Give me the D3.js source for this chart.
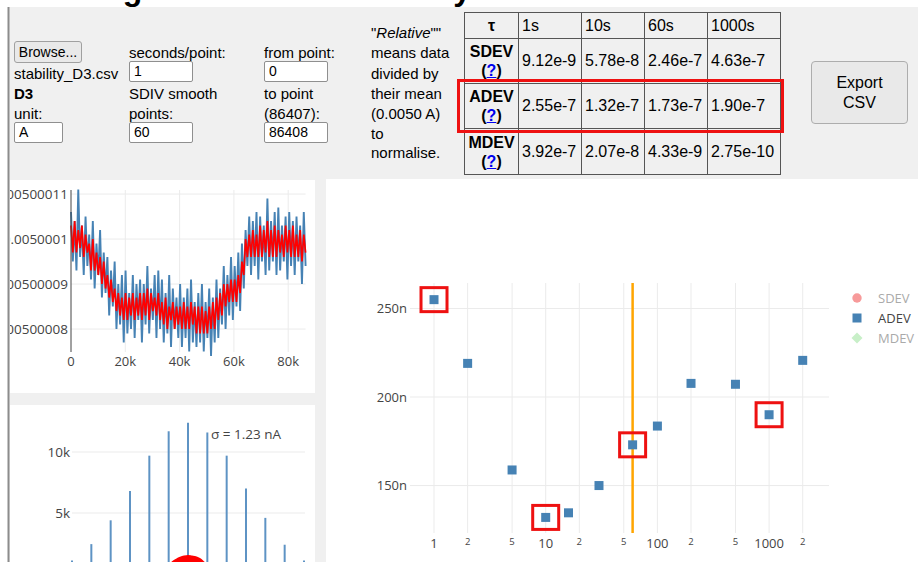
<!DOCTYPE html>
<html><head><meta charset="utf-8">
<script src="https://cdn.jsdelivr.net/npm/d3@7"></script>
<style>
html,body{margin:0;padding:0;}
body{width:918px;height:562px;overflow:hidden;position:relative;background:#fff;font-family:"Liberation Sans",Arial,sans-serif;color:#000;}
#chart{position:absolute;left:0;top:0;}
.lbl{position:absolute;font-size:15px;line-height:20px;white-space:nowrap;}
.inp{position:absolute;box-sizing:border-box;height:21px;border:1px solid #8f8f8f;border-radius:2px;background:#fff;font-size:14px;line-height:19px;padding:0 4px;}
.btn{position:absolute;box-sizing:border-box;border:1px solid #a0a0a0;border-radius:3px;background:#e9e9e9;font-size:14px;text-align:center;}
#stats{position:absolute;left:464px;top:12px;border-collapse:collapse;table-layout:fixed;width:316px;}
#stats td,#stats th{border:1px solid #555;padding:0 3px;font-size:16px;font-weight:normal;text-align:left;vertical-align:middle;white-space:nowrap;overflow:hidden;}
#stats th.tau{text-align:center;font-weight:bold;}
#stats td.rl{text-align:center;font-weight:bold;line-height:19px;}
#stats td.rl u{color:#0000ee;}
</style></head><body>
<svg id="chart" width="918" height="562"></svg>

<button class="btn" style="left:14px;top:41px;width:68px;height:22px;padding:0;">Browse...</button>
<div class="lbl" style="left:14px;top:64px;">stability_D3.csv</div>
<div class="lbl" style="left:14px;top:84px;font-weight:bold;">D3</div>
<div class="lbl" style="left:14px;top:104px;">unit:</div>
<div class="inp" style="left:14px;top:122px;width:49px;">A</div>

<div class="lbl" style="left:129px;top:43px;">seconds/point:</div>
<div class="inp" style="left:129px;top:61px;width:64px;">1</div>
<div class="lbl" style="left:129px;top:84px;">SDIV smooth</div>
<div class="lbl" style="left:129px;top:104px;">points:</div>
<div class="inp" style="left:129px;top:122px;width:64px;">60</div>

<div class="lbl" style="left:264px;top:43px;">from point:</div>
<div class="inp" style="left:264px;top:61px;width:64px;">0</div>
<div class="lbl" style="left:264px;top:84px;">to point</div>
<div class="lbl" style="left:264px;top:104px;">(86407):</div>
<div class="inp" style="left:264px;top:122px;width:64px;">86408</div>

<div class="lbl" style="left:371px;top:23px;">"<i>Relative</i>""</div>
<div class="lbl" style="left:371px;top:43px;">means data</div>
<div class="lbl" style="left:371px;top:64px;">divided by</div>
<div class="lbl" style="left:371px;top:84px;">their mean</div>
<div class="lbl" style="left:371px;top:104px;">(0.0050 A)</div>
<div class="lbl" style="left:371px;top:124px;">to</div>
<div class="lbl" style="left:371px;top:143px;">normalise.</div>

<table id="stats"></table>
<div style="position:absolute;left:457px;top:79px;width:327px;height:54px;box-sizing:border-box;border:3px solid #ee1111;"></div>

<div class="btn" style="left:811px;top:61px;width:97px;height:63px;border-radius:4px;font-size:16px;line-height:20px;padding-top:11px;border-color:#adadad;">Export<br>CSV</div>

<script>
// ---------- DATA ----------
const tsEnd = 86407;                 // seconds (last point index)
const tsBase = 0.005;                // A
// offsets from 0.005 A, in units of 1e-9 A
const tsBlue = [
 106, 95, 104, 93, 111, 96, 103, 92, 105, 94,
 101, 91, 104, 89, 99, 92, 102, 87, 97, 88,
 96, 83, 93, 85, 95, 80, 90, 81, 92, 77,
 93, 79, 88, 80, 92, 78, 90, 82, 91, 77,
 90, 81, 94, 79, 89, 82, 92, 78, 93, 80,
 91, 77, 88, 79, 92, 76, 89, 80, 87, 78,
 90, 76, 87, 78, 89, 75, 91, 77, 86, 76,
 88, 77, 90, 75, 86, 78, 89, 74, 87, 77,
 91, 78, 89, 81, 94, 80, 92, 83, 96, 82,
 94, 85, 97, 84, 99, 89, 102, 94, 105, 92,
 104, 94, 106, 91, 105, 95, 103, 92, 109, 93,
 104, 95, 106, 92, 107, 93, 103, 95, 105, 91,
 106, 94, 104, 92, 105, 95, 103, 90, 106, 94
];
const tsRed = [
 103, 97, 104, 97, 102, 98, 103, 96, 101, 97,
 99, 93, 100, 93, 97, 92, 96, 90, 95, 89,
 92, 87, 91, 86, 89, 84, 88, 83, 87, 82,
 88, 82, 87, 83, 88, 82, 87, 83, 88, 82,
 88, 83, 89, 82, 88, 84, 87, 83, 88, 82,
 86, 81, 87, 80, 85, 82, 86, 80, 85, 81,
 85, 80, 86, 80, 85, 80, 86, 81, 85, 79,
 85, 79, 85, 79, 84, 79, 85, 80, 86, 80,
 87, 82, 88, 83, 90, 85, 90, 86, 91, 86,
 91, 86, 92, 88, 95, 92, 100, 96, 101, 96,
 102, 96, 101, 96, 103, 96, 102, 97, 104, 96,
 102, 96, 103, 96, 102, 97, 101, 96, 103, 97,
 102, 96, 103, 96, 101, 96, 102, 95, 101, 97
];
const tsYTicks = [0.00500008, 0.00500009, 0.0050001, 0.00500011];
const tsYTickLabels = ["0.00500008", "0.00500009", "0.0050001", "0.00500011"];
const tsXTicks = [0, 20000, 40000, 60000, 80000];
const tsXTickLabels = ["0", "20k", "40k", "60k", "80k"];

const histCenters = [-3, -2.5, -2, -1.5, -1, -0.5, 0, 0.5, 1, 1.5, 2, 2.5, 3];   // nA from mean
const histCounts  = [1100, 2450, 4400, 6800, 9700, 11700, 12400, 11600, 9700, 7000, 4600, 2400, 1100];
const smoothCenters = [-0.6, -0.5, -0.4, -0.3, -0.2, -0.1, 0, 0.1, 0.2, 0.3, 0.4, 0.5, 0.6];
const smoothCounts  = [300, 700, 1000, 1200, 1350, 1450, 1500, 1450, 1400, 1250, 1000, 700, 300];
const histYTicks = [5000, 10000];
const histYTickLabels = ["5k", "10k"];
const sigmaLabel = "σ = 1.23 nA";

const tableTaus = ["1s", "10s", "60s", "1000s"];
const sdevValues = [9.12e-9, 5.78e-8, 2.46e-7, 4.63e-7];
const adevValues = [2.55e-7, 1.32e-7, 1.73e-7, 1.90e-7];
const mdevValues = [3.92e-7, 2.07e-8, 4.33e-9, 2.75e-10];

const adevTau   = [1, 2, 5, 10, 16, 30, 60, 100, 200, 500, 1000, 2000];
const adevValue = [255e-9, 219e-9, 158.8e-9, 132e-9, 134.6e-9, 150e-9, 173e-9, 183.6e-9, 207.7e-9, 207.2e-9, 190e-9, 220.7e-9];
const highlightTau = [1, 10, 60, 1000];
const selectedTau = 60;
const xMajorTicks = [1, 10, 100, 1000];
const xMinorTicks = [2, 5, 20, 50, 200, 500, 2000];
const yTicksM = [150e-9, 200e-9, 250e-9];
const legendNames = ["SDEV", "ADEV", "MDEV"];

// ---------- TABLE ----------
const table = d3.select("#stats");
const cg = table.append("colgroup");
[54, 63, 63, 63, 73].forEach(w => cg.append("col").style("width", w + "px"));
const hr = table.append("tr").style("height", "26px");
hr.append("th").attr("class", "tau").text("τ");
tableTaus.forEach(t => hr.append("th").text(t));
[["SDEV", sdevValues, 45], ["ADEV", adevValues, 45], ["MDEV", mdevValues, 46]].forEach(([name, vals, h]) => {
  const tr = table.append("tr").style("height", h + "px");
  tr.append("td").attr("class", "rl").html(name + "<br>(<u>?</u>)");
  vals.forEach(v => tr.append("td").text(v.toExponential(2)));
});

// ---------- SVG ----------
const svg = d3.select("#chart");
const FONT = "'Open Sans', 'DejaVu Sans', sans-serif";
svg.append("rect").attr("x", 8).attr("y", 7).attr("width", 910).attr("height", 555).attr("fill", "#f0f0f0");
svg.append("line").attr("x1", 8.5).attr("x2", 8.5).attr("y1", 7).attr("y2", 562).attr("stroke", "#8c8c8c").attr("stroke-width", 2);
svg.append("text").attr("x", 64).attr("y", 0).attr("font-family", "'Liberation Sans', Arial, sans-serif")
  .attr("font-weight", "bold").attr("font-size", 32).text("Long-term current stability");

const panels = {ts: [10, 180, 305, 213], hist: [10, 405, 305, 160], main: [326, 179, 592, 383]};
const defs = svg.append("defs");
Object.entries(panels).forEach(([k, p]) => {
  svg.append("rect").attr("x", p[0]).attr("y", p[1]).attr("width", p[2]).attr("height", p[3]).attr("fill", "#fff");
  defs.append("clipPath").attr("id", "clip-" + k).append("rect")
    .attr("x", p[0]).attr("y", p[1]).attr("width", p[2]).attr("height", p[3]);
});
const grid = "#ebebeb", tickCol = "#444";

// ----- time series -----
const gT = svg.append("g").attr("clip-path", "url(#clip-ts)");
const xTs = d3.scaleLinear().domain([0, tsEnd]).range([71, 305.6]);
const yTs = d3.scaleLinear().domain([tsBase + 74.9e-9, tsBase + 110.9e-9]).range([352, 190]);
gT.selectAll(".hg").data(tsYTicks).join("line")
  .attr("x1", xTs(0)).attr("x2", xTs(tsEnd)).attr("y1", d => yTs(d)).attr("y2", d => yTs(d))
  .attr("stroke", grid);
gT.selectAll(".vg").data(tsXTicks.slice(1)).join("line")
  .attr("x1", d => xTs(d)).attr("x2", d => xTs(d)).attr("y1", yTs.range()[1]).attr("y2", yTs.range()[0])
  .attr("stroke", grid);
const lineTs = arr => d3.line().x((d, i) => xTs(i / (arr.length - 1) * tsEnd)).y(d => yTs(tsBase + d * 1e-9))(arr);
gT.append("path").attr("d", lineTs(tsBlue)).attr("fill", "none").attr("stroke", "#4682b4").attr("stroke-width", 1.9);
gT.append("path").attr("d", lineTs(tsRed)).attr("fill", "none").attr("stroke", "#ff0000").attr("stroke-width", 1.7);
gT.append("line").attr("x1", xTs(0)).attr("x2", xTs(0)).attr("y1", yTs.range()[1]).attr("y2", yTs.range()[0])
  .attr("stroke", "#444").attr("stroke-width", 1);
gT.selectAll(".yl").data(tsYTicks).join("text")
  .attr("x", xTs(0) - 3).attr("y", d => yTs(d)).attr("dy", "0.35em").attr("text-anchor", "end")
  .attr("font-family", FONT).attr("font-size", 13.5).attr("fill", tickCol).text((d, i) => tsYTickLabels[i]);
gT.selectAll(".xl").data(tsXTicks).join("text")
  .attr("x", d => xTs(d)).attr("y", 361).attr("dy", "0.35em").attr("text-anchor", "middle")
  .attr("font-family", FONT).attr("font-size", 13).attr("fill", tickCol).text((d, i) => tsXTickLabels[i]);

// ----- histogram -----
const gH = svg.append("g").attr("clip-path", "url(#clip-hist)");
const xH = d3.scaleLinear().domain([-3, 3]).range([72, 304]);
const yH = d3.scaleLinear().domain([0, 10000]).range([574, 452]);
gH.selectAll(".hg").data(histYTicks).join("line")
  .attr("x1", 72).attr("x2", 305).attr("y1", d => yH(d)).attr("y2", d => yH(d)).attr("stroke", grid);
gH.selectAll(".bar").data(histCenters).join("line")
  .attr("x1", d => xH(d)).attr("x2", d => xH(d)).attr("y1", yH(0)).attr("y2", (d, i) => yH(histCounts[i]))
  .attr("stroke", "#5e93c4").attr("stroke-width", 2);
gH.append("path")
  .attr("d", d3.area().x(d => xH(d)).y0(yH(0)).y1((d, i) => yH(smoothCounts[i])).curve(d3.curveCatmullRom)(smoothCenters))
  .attr("fill", "#ff0000").attr("stroke", "#ff0000").attr("stroke-width", 1.5);
gH.selectAll(".yl").data(histYTicks).join("text")
  .attr("x", 70).attr("y", d => yH(d)).attr("dy", "0.35em").attr("text-anchor", "end")
  .attr("font-family", FONT).attr("font-size", 13.5).attr("fill", tickCol).text((d, i) => histYTickLabels[i]);
gH.append("text").attr("x", 211).attr("y", 434).attr("dy", "0.35em")
  .attr("font-family", FONT).attr("font-size", 13.5).attr("fill", tickCol).text(sigmaLabel);

// ----- ADEV plot -----
const gM = svg.append("g").attr("clip-path", "url(#clip-main)");
const xM = d3.scaleLog().domain([0.6096, 3439]).range([410, 829]);
const yM = d3.scaleLinear().domain([123.2e-9, 264.4e-9]).range([533, 283]);
const allX = xMajorTicks.concat(xMinorTicks);
gM.selectAll(".vg").data(allX).join("line")
  .attr("x1", d => xM(d)).attr("x2", d => xM(d)).attr("y1", yM.range()[1]).attr("y2", yM.range()[0]).attr("stroke", grid);
gM.selectAll(".hg").data(yTicksM).join("line")
  .attr("x1", xM.range()[0]).attr("x2", xM.range()[1]).attr("y1", d => yM(d)).attr("y2", d => yM(d)).attr("stroke", grid);
gM.append("line").attr("x1", xM(selectedTau)).attr("x2", xM(selectedTau))
  .attr("y1", yM.range()[1]).attr("y2", yM.range()[0]).attr("stroke", "#ffa500").attr("stroke-width", 2.5);
gM.selectAll(".pt").data(adevTau).join("rect")
  .attr("x", d => xM(d) - 4.5).attr("y", (d, i) => yM(adevValue[i]) - 4.5)
  .attr("width", 9).attr("height", 9).attr("fill", "#4682b4");
gM.selectAll(".hl").data(highlightTau).join("rect")
  .attr("x", d => xM(d) - 13).attr("y", d => yM(adevValue[adevTau.indexOf(d)]) - 12)
  .attr("width", 26).attr("height", 24).attr("fill", "none").attr("stroke", "#ee1111").attr("stroke-width", 3);
gM.selectAll(".yl").data(yTicksM).join("text")
  .attr("x", 407).attr("y", d => yM(d)).attr("dy", "0.35em").attr("text-anchor", "end")
  .attr("font-family", FONT).attr("font-size", 13).attr("fill", tickCol).text(d => Math.round(d * 1e9) + "n");
gM.selectAll(".xmaj").data(xMajorTicks).join("text")
  .attr("x", d => xM(d)).attr("y", 543.5).attr("dy", "0.35em").attr("text-anchor", "middle")
  .attr("font-family", FONT).attr("font-size", 13).attr("fill", tickCol).text(d => String(d));
gM.selectAll(".xmin").data(xMinorTicks).join("text")
  .attr("x", d => xM(d)).attr("y", 541.5).attr("dy", "0.35em").attr("text-anchor", "middle")
  .attr("font-family", FONT).attr("font-size", 9.5).attr("fill", tickCol).text(d => String(d).charAt(0));
// legend
const lg = gM.selectAll(".lg").data(legendNames).join("g").attr("transform", (d, i) => `translate(857,${298 + i * 20})`);
lg.each(function(d) {
  const g = d3.select(this);
  if (d === "SDEV") g.append("circle").attr("r", 4.7).attr("fill", "#f79a9a");
  else if (d === "ADEV") g.append("rect").attr("x", -4.5).attr("y", -4.5).attr("width", 9).attr("height", 9).attr("fill", "#4682b4");
  else g.append("path").attr("d", "M0,-5.5L5.5,0L0,5.5L-5.5,0Z").attr("fill", "#c8efc8");
});
lg.append("text").attr("x", 21).attr("dy", "0.35em").attr("font-family", FONT).attr("font-size", 13)
  .attr("fill", d => d === "ADEV" ? "#444" : "#aaaaaa").text(d => d);
</script>
</body></html>
